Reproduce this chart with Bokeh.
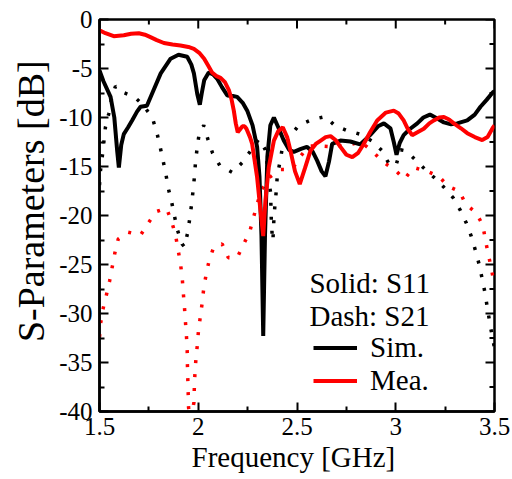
from bokeh.plotting import figure
from bokeh.models import (Range1d, LinearAxis, FixedTicker, Legend, LegendItem, Label)
from bokeh.embed import file_html
from bokeh.resources import INLINE

# ---- data ----
sim_s11_x = [1.5, 1.52, 1.556, 1.575, 1.59, 1.598, 1.61, 1.623, 1.645, 1.665, 1.69, 1.708, 1.74,
             1.774, 1.81, 1.86, 1.90, 1.944, 1.965, 1.978, 1.995, 2.008, 2.018, 2.03, 2.053, 2.075,
             2.096, 2.12, 2.147, 2.175, 2.197, 2.225, 2.248, 2.275, 2.298, 2.31, 2.32, 2.329, 2.338,
             2.35, 2.365, 2.383, 2.405, 2.433, 2.46, 2.484, 2.52, 2.55, 2.58, 2.602, 2.625, 2.644,
             2.662, 2.678, 2.72, 2.77, 2.82, 2.87, 2.91, 2.94, 2.973, 2.99, 3.004, 3.02, 3.04, 3.07,
             3.109, 3.14, 3.173, 3.21, 3.244, 3.28, 3.311, 3.362, 3.40, 3.429, 3.46, 3.493, 3.5]
sim_s11_y = [-5.2, -6.3, -7.9, -10.0, -13.5, -15.1, -12.8, -11.7, -11.0, -10.3, -9.4, -8.9, -8.8,
             -7.2, -5.5, -4.0, -3.6, -3.8, -4.6, -5.5, -7.6, -8.7, -7.5, -6.2, -5.4, -5.6,
             -6.05, -6.9, -7.75, -7.8, -7.9, -8.5, -9.3, -10.8, -13.0, -16.0, -22.0, -32.3, -22.0,
             -14.0, -10.8, -10.0, -11.0, -12.35, -13.3, -13.5, -13.2, -13.0, -13.5, -14.4, -15.5, -16.0,
             -14.5, -12.7, -12.35, -12.45, -12.75, -11.8, -10.9, -10.6, -11.1, -12.5, -13.8, -12.6, -11.8, -11.2,
             -10.6, -10.0, -9.7, -10.1, -10.5, -10.7, -10.6, -10.3, -9.7, -8.9, -8.2, -7.4, -7.3]

mea_s11_x = [1.5, 1.53, 1.572, 1.623, 1.66, 1.699, 1.73, 1.758, 1.79, 1.826, 1.87, 1.91, 1.95,
             1.978, 2.005, 2.03, 2.05, 2.07, 2.09, 2.113, 2.135, 2.155, 2.168, 2.18, 2.19, 2.20,
             2.212, 2.223, 2.235, 2.244, 2.262, 2.273, 2.298, 2.315, 2.329, 2.34, 2.357, 2.383,
             2.405, 2.428, 2.45, 2.467, 2.49, 2.514, 2.54, 2.568, 2.595, 2.62, 2.645, 2.67, 2.695,
             2.72, 2.75, 2.78, 2.81, 2.838, 2.87, 2.906, 2.95, 2.99, 3.015, 3.04, 3.062, 3.083,
             3.11, 3.142, 3.17, 3.193, 3.22, 3.244, 3.27, 3.294, 3.33, 3.362, 3.40, 3.438, 3.465,
             3.493, 3.5]
mea_s11_y = [-1.1, -1.4, -1.7, -1.6, -1.45, -1.4, -1.55, -1.8, -2.1, -2.4, -2.55, -2.65, -2.8,
             -3.0, -3.4, -4.0, -4.7, -5.4, -5.75, -5.95, -6.4, -7.2, -8.1, -9.3, -10.6, -11.5,
             -11.2, -10.9, -10.9, -11.15, -12.0, -12.7, -16.1, -19.5, -22.1, -18.5, -15.1, -12.35,
             -11.4, -11.0, -12.0, -13.4, -15.5, -16.8, -15.2, -13.4, -12.7, -12.35, -12.0, -11.9, -12.3,
             -13.0, -13.8, -14.05, -13.6, -12.7, -11.5, -10.3, -9.5, -9.3, -9.6, -10.3, -11.2, -11.8,
             -11.5, -11.15, -10.6, -10.3, -10.0, -9.95, -10.2, -10.6, -11.1, -11.6, -12.0, -12.3, -12.0,
             -11.0, -10.8]

sim_s21_x = [1.5, 1.505, 1.514, 1.522, 1.53, 1.547, 1.56, 1.581, 1.615, 1.677, 1.72, 1.767, 1.79,
             1.806, 1.822, 1.836, 1.848, 1.865, 1.88, 1.895, 1.918, 1.93, 1.946, 1.957, 1.966,
             1.974, 1.981, 1.986, 1.995, 2.005, 2.028, 2.05, 2.072, 2.109, 2.172, 2.223, 2.265,
             2.307, 2.34, 2.349, 2.354, 2.366, 2.37, 2.374, 2.378, 2.383, 2.388, 2.395, 2.40, 2.413,
             2.425, 2.45, 2.509, 2.577, 2.644, 2.69, 2.75, 2.818, 2.88, 2.931, 2.965, 2.985, 3.004,
             3.024, 3.05, 3.083, 3.139, 3.193, 3.243, 3.291, 3.328, 3.358, 3.382, 3.404, 3.421,
             3.438, 3.451, 3.463, 3.475, 3.488, 3.5]
sim_s21_y = [-16.9, -15.4, -14.0, -12.5, -11.0, -9.6, -8.2, -6.8, -7.4, -7.9, -8.7, -10.0, -11.5,
             -12.9, -14.4, -15.75, -17.2, -18.6, -20.1, -21.5, -22.9, -23.2, -21.8, -20.3, -18.9,
             -17.4, -16.0, -14.6, -13.0, -11.6, -10.8, -12.3, -13.6, -14.9, -15.6, -14.6, -13.4,
             -12.2, -13.3, -14.7, -16.2, -17.6, -20.5, -21.9, -22.6, -20.4, -19.0, -17.5, -16.0, -14.6,
             -13.2, -12.3, -10.8, -10.2, -9.9, -10.8, -11.3, -11.7, -12.4, -13.4, -14.7, -15.0, -14.7,
             -13.3, -13.4, -14.0, -15.1, -16.1, -17.1, -18.2, -19.5, -20.8, -22.1, -23.6, -24.9,
             -26.5, -27.8, -29.3, -30.8, -32.3, -33.5]

mea_s21_x = [1.5, 1.505, 1.517, 1.534, 1.551, 1.564, 1.578, 1.595, 1.645, 1.708, 1.746, 1.787,
             1.839, 1.865, 1.885, 1.898, 1.91, 1.919, 1.924, 1.93, 1.935, 1.94, 1.944, 1.945, 1.947,
             1.949, 1.951, 1.962, 1.978, 1.98, 1.983, 1.988, 1.995, 2.001, 2.01, 2.02, 2.028, 2.04,
             2.055, 2.079, 2.121, 2.152, 2.197, 2.228, 2.26, 2.28, 2.297, 2.32, 2.354, 2.416, 2.476,
             2.514, 2.56, 2.616, 2.686, 2.757, 2.825, 2.889, 2.94, 2.999, 3.044, 3.09, 3.16, 3.218,
             3.265, 3.323, 3.353, 3.408, 3.441, 3.454, 3.468, 3.483, 3.496, 3.5]
mea_s21_y = [-32.4, -31.1, -29.6, -28.2, -26.7, -25.3, -23.8, -22.4, -21.7, -22.0, -20.8, -19.6,
             -19.25, -20.6, -22.0, -23.5, -24.9, -26.4, -27.8, -29.3, -30.8, -32.2, -33.7, -35.1, -36.6,
             -38.1, -39.6, -40.8, -39.1, -37.7, -36.2, -34.7, -33.3, -31.8, -30.4, -28.9, -27.4, -26.0,
             -24.6, -23.2, -22.9, -24.3, -24.3, -23.0, -21.7, -20.2, -18.9, -17.4, -16.2, -15.3, -15.3,
             -14.05, -12.9, -12.9, -13.0, -12.8, -12.5, -13.6, -14.6, -15.4, -16.3, -15.1, -15.5, -16.0,
             -17.0, -17.55, -18.8, -19.75, -21.0, -22.5, -23.9, -25.3, -26.7, -27.0]

x_ticks = [1.5, 2.0, 2.5, 3.0, 3.5]
x_labels = ["1.5", "2", "2.5", "3", "3.5"]
x_minor = [1.75, 2.25, 2.75, 3.25]
y_ticks = [0, -5, -10, -15, -20, -25, -30, -35, -40]
y_labels = ["0", "-5", "-10", "-15", "-20", "-25", "-30", "-35", "-40"]
y_minor = [-2.5, -7.5, -12.5, -17.5, -22.5, -27.5, -32.5, -37.5]

FONT = "Liberation Serif"
X0, X1, Y0, Y1 = 1.5, 3.5, -40, 0
FRAME_W, FRAME_H = 395, 392          # pixels of the plotting area
MAJ_PX, MIN_PX = 9, 5                # inward tick lengths in pixels

p = figure(width=512, height=479, output_backend="svg", toolbar_location=None,
           x_range=Range1d(X0, X1), y_range=Range1d(Y0, Y1),
           x_axis_location=None, y_axis_location=None,
           min_border_left=99, min_border_right=18, min_border_top=19, min_border_bottom=68)
p.background_fill_color = "white"
p.border_fill_color = "white"
p.grid.visible = False
p.outline_line_color = "black"
p.outline_line_width = 2.5


def style_axis(ax, fmt_map, tick_vals, minor_vals):
    ax.ticker = FixedTicker(ticks=tick_vals, minor_ticks=minor_vals)
    ax.axis_line_color = "black"
    ax.axis_line_width = 2.5
    ax.major_tick_in = MAJ_PX
    ax.major_tick_out = 0
    ax.minor_tick_in = MIN_PX
    ax.minor_tick_out = 0
    ax.major_tick_line_width = 2
    ax.minor_tick_line_width = 2
    ax.major_tick_line_color = "black"
    ax.minor_tick_line_color = "black"
    ax.major_label_overrides = fmt_map
    ax.major_label_text_font = FONT
    ax.major_label_text_font_size = "25px"
    ax.major_label_text_color = "black"
    ax.axis_label_text_font = FONT
    ax.axis_label_text_font_style = "normal"
    ax.axis_label_text_color = "black"


xmap = {v: s for v, s in zip(x_ticks, x_labels)}
ymap = {v: s for v, s in zip(y_ticks, y_labels)}

xb = LinearAxis()
style_axis(xb, xmap, x_ticks, x_minor)
xb.major_label_standoff = 6
xb.axis_label = "Frequency [GHz]\u00a0"
xb.axis_label_text_font_size = "29px"
xb.axis_label_standoff = 3
p.add_layout(xb, "below")

yl = LinearAxis()
style_axis(yl, ymap, y_ticks, y_minor)
yl.major_label_standoff = 7
yl.axis_label = "\u00a0\u00a0\u00a0S-Parameters [dB]"
yl.axis_label_text_font_size = "38px"
yl.axis_label_standoff = 4
p.add_layout(yl, "left")

# inward ticks on the top and right edges, lengths converted from pixels to data units
dy_maj = MAJ_PX * (Y1 - Y0) / FRAME_H
dy_min = MIN_PX * (Y1 - Y0) / FRAME_H
dx_maj = MAJ_PX * (X1 - X0) / FRAME_W
dx_min = MIN_PX * (X1 - X0) / FRAME_W
p.segment(x0=x_ticks, y0=[Y1] * len(x_ticks), x1=x_ticks, y1=[Y1 - dy_maj] * len(x_ticks),
          line_color="black", line_width=2)
p.segment(x0=x_minor, y0=[Y1] * len(x_minor), x1=x_minor, y1=[Y1 - dy_min] * len(x_minor),
          line_color="black", line_width=2)
p.segment(x0=[X1] * len(y_ticks), y0=y_ticks, x1=[X1 - dx_maj] * len(y_ticks), y1=y_ticks,
          line_color="black", line_width=2)
p.segment(x0=[X1] * len(y_minor), y0=y_minor, x1=[X1 - dx_min] * len(y_minor), y1=y_minor,
          line_color="black", line_width=2)

# dotted S21 curves
p.line(sim_s21_x, sim_s21_y, line_color="black", line_width=3.5, line_dash="3 11")
p.line(mea_s21_x, mea_s21_y, line_color="#ff0000", line_width=3.5, line_dash="3 11")
# solid S11 curves
r_sim = p.line(sim_s11_x, sim_s11_y, line_color="black", line_width=4)
r_mea = p.line(mea_s11_x, mea_s11_y, line_color="#ff0000", line_width=4)

legend = Legend(items=[LegendItem(label="Sim.", renderers=[r_sim]),
                       LegendItem(label="Mea.", renderers=[r_mea])],
                location=(214, 14), orientation="vertical",
                glyph_width=44, glyph_height=33, label_height=33,
                label_standoff=13, spacing=0, padding=0, margin=0,
                label_text_font=FONT, label_text_font_size="29px",
                label_text_color="black",
                background_fill_alpha=0, border_line_alpha=0)
p.add_layout(legend)

p.add_layout(Label(x=2.563, y=-26.84, text="Solid: S11", text_font=FONT,
                   text_font_size="29px", text_color="black", text_baseline="alphabetic"))
p.add_layout(Label(x=2.563, y=-30.3, text="Dash: S21", text_font=FONT,
                   text_font_size="29px", text_color="black", text_baseline="alphabetic"))

open("out.html", "w").write(file_html(p, INLINE))
